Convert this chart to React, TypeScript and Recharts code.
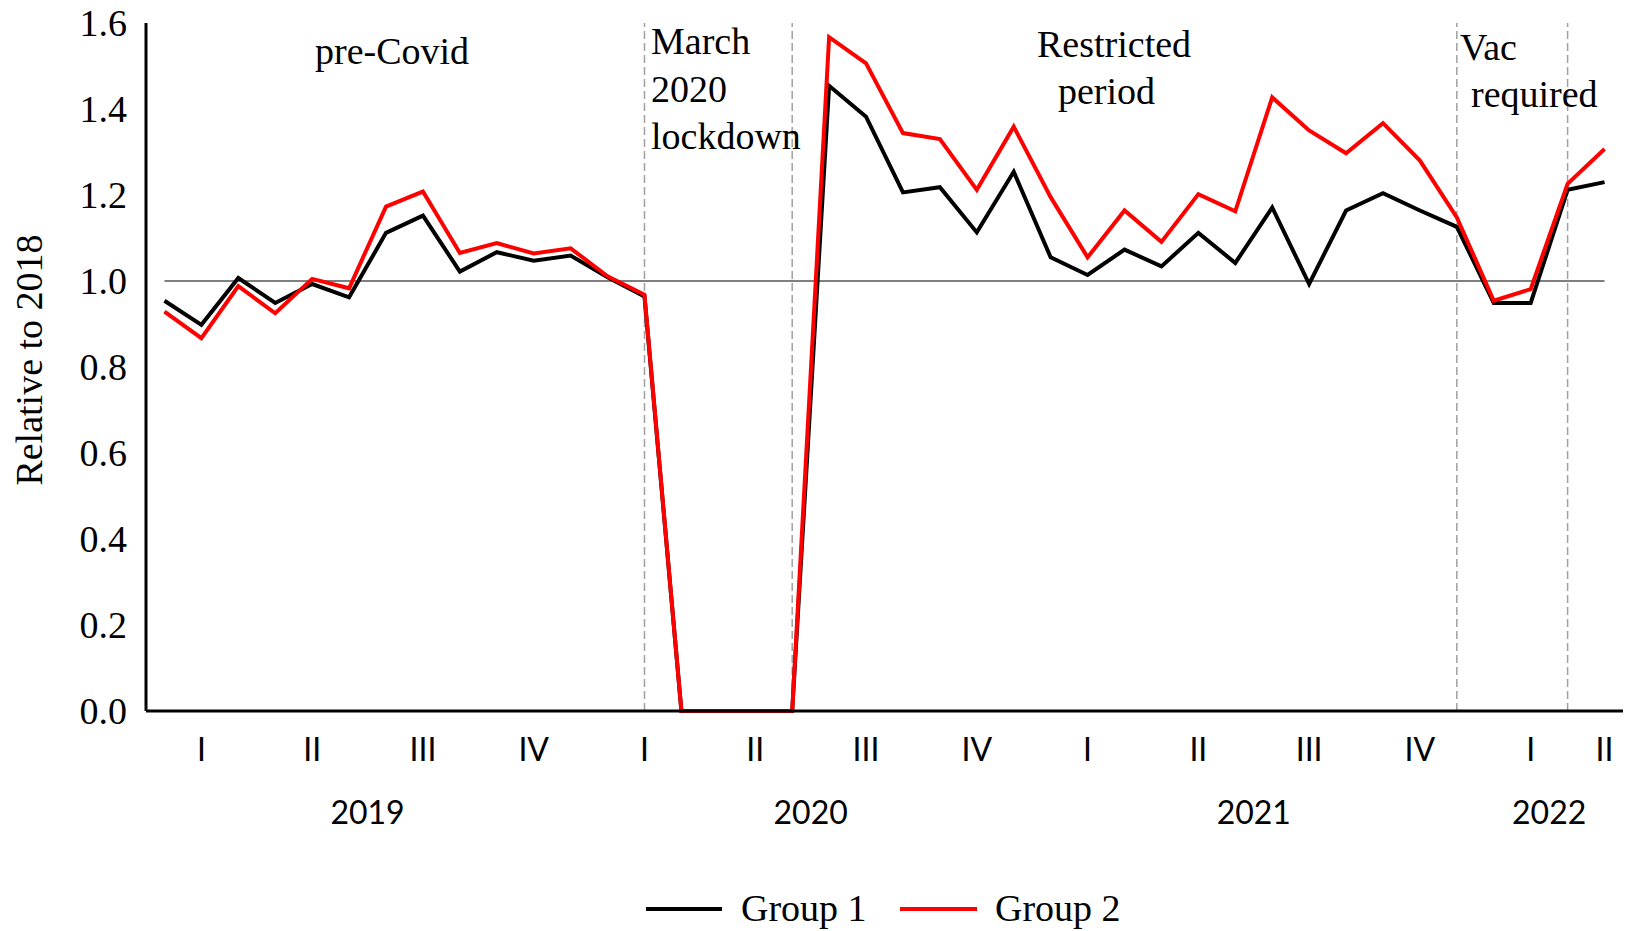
import { LineChart, Line, XAxis, YAxis, ReferenceLine } from "recharts";

// monthly points, Jan 2019 .. Apr 2022
const months = [
  "2019-01", "2019-02", "2019-03", "2019-04", "2019-05", "2019-06",
  "2019-07", "2019-08", "2019-09", "2019-10", "2019-11", "2019-12",
  "2020-01", "2020-02", "2020-03", "2020-04", "2020-05", "2020-06",
  "2020-07", "2020-08", "2020-09", "2020-10", "2020-11", "2020-12",
  "2021-01", "2021-02", "2021-03", "2021-04", "2021-05", "2021-06",
  "2021-07", "2021-08", "2021-09", "2021-10", "2021-11", "2021-12",
  "2022-01", "2022-02", "2022-03", "2022-04",
];

const group1 = [
  0.954, 0.898, 1.007, 0.949, 0.993, 0.962, 1.112, 1.152, 1.022, 1.067, 1.047, 1.059,
  1.009, 0.964, 0, 0, 0, 0, 1.454, 1.382, 1.206, 1.218, 1.113, 1.254,
  1.055, 1.014, 1.073, 1.034, 1.112, 1.042, 1.171, 0.993, 1.164, 1.204, 1.164, 1.126,
  0.949, 0.949, 1.212, 1.23,
];

const group2 = [
  0.929, 0.867, 0.988, 0.925, 1.005, 0.983, 1.173, 1.208, 1.065, 1.088, 1.064, 1.076,
  1.011, 0.968, 0, 0, 0, 0, 1.567, 1.506, 1.344, 1.33, 1.212, 1.359,
  1.195, 1.055, 1.164, 1.091, 1.202, 1.162, 1.427, 1.35, 1.297, 1.367, 1.28, 1.148,
  0.954, 0.981, 1.226, 1.307,
];

const yTicks = [0, 0.2, 0.4, 0.6, 0.8, 1.0, 1.2, 1.4, 1.6];
const quarterNames = ["I", "II", "III", "IV"];
const periodBreaks = ["2020-02", "2020-06", "2021-12", "2022-03"];
const baseline = 1.0;

const periods = [
  { lines: ["pre-Covid"], x: 315, y: 64 },
  { lines: ["March", "2020", "lockdown"], x: 651, y: 54 },
  { lines: ["Restricted"], x: 1037, y: 57 },
  { lines: ["period"], x: 1058, y: 104 },
  { lines: ["Vac"], x: 1460, y: 60 },
  { lines: ["required"], x: 1471, y: 107 },
];

const data = months.map((m, i) => ({ month: m, g1: group1[i], g2: group2[i] }));

const W = 1629;
const H = 931;
const MARGIN = { top: 23, right: 6, bottom: 100, left: 0 };
const Y_W = 146;
const X_H = 120;
const BAND = (W - MARGIN.left - MARGIN.right - Y_W) / months.length;

const serif = "'Liberation Serif', 'Times New Roman', serif";
const sans = "Lato, 'Liberation Sans', sans-serif";

const yearOf = (m: string) => m.slice(0, 4);
const quarterOf = (m: string) => yearOf(m) + "-" + Math.floor((Number(m.slice(5)) - 1) / 3);

function MonthTick(props: any) {
  const { x, y, payload } = props;
  const i = payload.index;
  const m = months[i];
  const out = [];

  const q = quarterOf(m);
  if (i === 0 || quarterOf(months[i - 1]) !== q) {
    const n = months.filter((s) => quarterOf(s) === q).length;
    out.push(
      <text key="q" x={x + ((n - 1) / 2) * BAND} y={y + 37} textAnchor="middle"
        dominantBaseline="central" fontFamily={sans} fontSize={32} fill="#000">
        {quarterNames[Number(q.slice(5))]}
      </text>
    );
  }
  const yr = yearOf(m);
  if (i === 0 || yearOf(months[i - 1]) !== yr) {
    const n = months.filter((s) => yearOf(s) === yr).length;
    out.push(
      <text key="y" x={x + ((n - 1) / 2) * BAND} y={y + 100} textAnchor="middle"
        dominantBaseline="central" fontFamily={sans} fontSize={32} fill="#000">
        {yr}
      </text>
    );
  }
  return <g>{out}</g>;
}

export default function App() {
  return (
    <div style={{ position: "absolute", left: 0, top: 0, width: W, height: H, background: "#fff" }}>
      <LineChart width={W} height={H} data={data} margin={MARGIN}>
        <XAxis
          dataKey="month"
          interval={0}
          height={X_H}
          padding={{ left: BAND / 2, right: BAND / 2 }}
          tickLine={false}
          tickSize={0}
          tickMargin={0}
          axisLine={{ stroke: "#000", strokeWidth: 3 }}
          tick={(p: any) => <MonthTick {...p} />}
        />
        <YAxis
          width={Y_W}
          domain={[0, 1.6]}
          ticks={yTicks}
          interval={0}
          tickLine={false}
          tickSize={0}
          tickMargin={19}
          tickFormatter={(v: number) => v.toFixed(1)}
          axisLine={{ stroke: "#000", strokeWidth: 3 }}
          tick={{ fontFamily: serif, fontSize: 38, fill: "#000" }}
        />
        {periodBreaks.map((m) => (
          <ReferenceLine key={m} x={m} stroke="#a0a0a0" strokeWidth={1.5} strokeDasharray="8 4" />
        ))}
        <ReferenceLine
          segment={[
            { x: months[0], y: baseline },
            { x: months[months.length - 1], y: baseline },
          ]}
          stroke="#555"
          strokeWidth={1.5}
        />
        <Line type="linear" dataKey="g1" name="Group 1" stroke="#000" strokeWidth={4}
          dot={false} isAnimationActive={false} />
        <Line type="linear" dataKey="g2" name="Group 2" stroke="#ff0000" strokeWidth={4}
          dot={false} isAnimationActive={false} />
      </LineChart>

      <svg width={W} height={H} style={{ position: "absolute", left: 0, top: 0, pointerEvents: "none" }}>
        <text x={29} y={360} transform="rotate(-90 29 360)" textAnchor="middle"
          dominantBaseline="central" fontFamily={serif} fontSize={38} fill="#000">
          Relative to 2018
        </text>
        {periods.map((p) =>
          p.lines.map((t, k) => (
            <text key={t} x={p.x} y={p.y + k * 47.5} fontFamily={serif} fontSize={38} fill="#000">
              {t}
            </text>
          ))
        )}
        <line x1={646} x2={722} y1={909} y2={909} stroke="#000" strokeWidth={4} />
        <text x={741} y={921} fontFamily={serif} fontSize={38} fill="#000">Group 1</text>
        <line x1={900} x2={977} y1={909} y2={909} stroke="#ff0000" strokeWidth={4} />
        <text x={995} y={921} fontFamily={serif} fontSize={38} fill="#000">Group 2</text>
      </svg>
    </div>
  );
}
